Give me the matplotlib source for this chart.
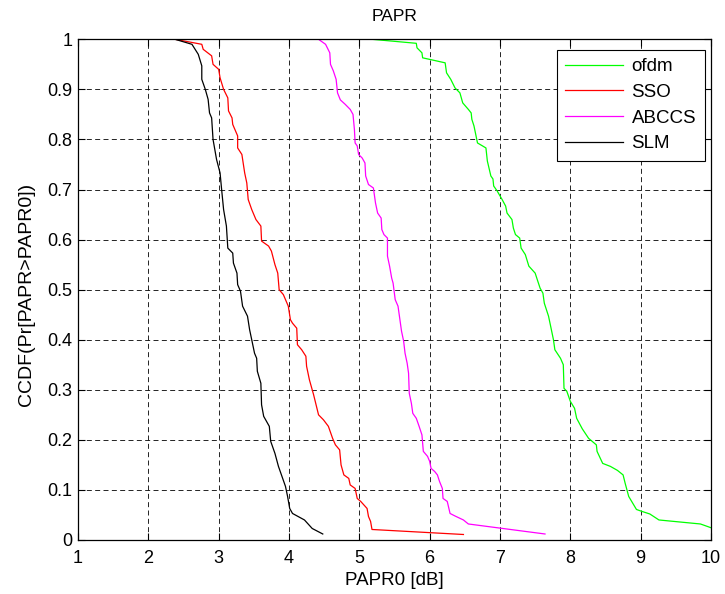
import matplotlib
matplotlib.use("Agg")
import matplotlib.pyplot as plt

# valores (curvas CCDF)
ofdm_x = [5.18, 5.81, 5.82, 5.89, 5.90, 6.22, 6.24, 6.30, 6.36, 6.43, 6.47, 6.55, 6.59, 6.60,
          6.63, 6.68, 6.80, 6.82, 6.87, 6.90, 6.91, 6.96, 7.03, 7.08, 7.10, 7.17, 7.19, 7.22,
          7.28, 7.30, 7.36, 7.41, 7.50, 7.53, 7.57, 7.61, 7.63, 7.69, 7.72, 7.76, 7.78, 7.86,
          7.90, 7.91, 7.95, 8.00, 8.06, 8.09, 8.17, 8.26, 8.37, 8.38, 8.46, 8.57, 8.67, 8.75,
          8.78, 8.83, 8.94, 9.02, 9.13, 9.26, 9.85, 10.05]
ofdm_y = [1.0, 0.992, 0.983, 0.973, 0.963, 0.953, 0.933, 0.92, 0.903, 0.893, 0.873, 0.86, 0.853, 0.84,
          0.827, 0.793, 0.783, 0.757, 0.727, 0.721, 0.707, 0.697, 0.68, 0.667, 0.653, 0.64, 0.623, 0.61,
          0.603, 0.583, 0.57, 0.547, 0.533, 0.52, 0.503, 0.493, 0.473, 0.447, 0.427, 0.40, 0.38, 0.363,
          0.35, 0.303, 0.297, 0.277, 0.263, 0.243, 0.222, 0.203, 0.19, 0.177, 0.153, 0.147, 0.139, 0.13,
          0.113, 0.087, 0.061, 0.057, 0.052, 0.04, 0.032, 0.022]

sso_x = [2.38, 2.76, 2.78, 2.90, 2.92, 3.00, 3.02, 3.07, 3.13, 3.14, 3.19, 3.20, 3.27, 3.27,
         3.33, 3.37, 3.40, 3.42, 3.47, 3.53, 3.60, 3.61, 3.71, 3.75, 3.80, 3.84, 3.86, 3.92,
         3.99, 4.02, 4.05, 4.11, 4.12, 4.18, 4.24, 4.25, 4.29, 4.35, 4.42, 4.49, 4.56, 4.62,
         4.66, 4.72, 4.74, 4.78, 4.85, 4.87, 4.94, 4.97, 5.02, 5.11, 5.13, 5.16, 5.18, 6.48]
sso_y = [1.0, 0.99, 0.98, 0.967, 0.95, 0.94, 0.923, 0.90, 0.883, 0.857, 0.843, 0.83, 0.807, 0.783,
         0.77, 0.733, 0.713, 0.68, 0.66, 0.64, 0.627, 0.597, 0.587, 0.577, 0.55, 0.533, 0.50, 0.49,
         0.467, 0.44, 0.433, 0.423, 0.39, 0.38, 0.367, 0.347, 0.32, 0.29, 0.25, 0.24, 0.227, 0.203,
         0.19, 0.18, 0.15, 0.13, 0.123, 0.11, 0.103, 0.083, 0.077, 0.063, 0.047, 0.037, 0.021, 0.011]

abccs_x = [4.42, 4.52, 4.58, 4.59, 4.63, 4.67, 4.69, 4.73, 4.80, 4.87, 4.91, 4.93, 4.94, 4.97,
           4.99, 5.04, 5.08, 5.09, 5.13, 5.20, 5.23, 5.26, 5.31, 5.32, 5.35, 5.40, 5.40, 5.43,
           5.46, 5.48, 5.51, 5.55, 5.57, 5.60, 5.63, 5.65, 5.68, 5.70, 5.71, 5.74, 5.76, 5.81,
           5.85, 5.89, 5.91, 5.97, 6.00, 6.02, 6.07, 6.11, 6.14, 6.18, 6.19, 6.25, 6.29, 6.36,
           6.48, 6.55, 7.64]
abccs_y = [1.0, 0.99, 0.973, 0.95, 0.937, 0.92, 0.893, 0.879, 0.87, 0.86, 0.85, 0.82, 0.793, 0.787,
           0.77, 0.763, 0.753, 0.727, 0.71, 0.703, 0.673, 0.653, 0.643, 0.62, 0.61, 0.603, 0.567, 0.547,
           0.523, 0.513, 0.48, 0.467, 0.447, 0.417, 0.397, 0.373, 0.353, 0.333, 0.293, 0.273, 0.253, 0.243,
           0.227, 0.21, 0.177, 0.167, 0.157, 0.143, 0.137, 0.13, 0.117, 0.103, 0.083, 0.077, 0.053, 0.048,
           0.04, 0.032, 0.012]

slm_x = [2.38, 2.62, 2.71, 2.76, 2.76, 2.81, 2.85, 2.87, 2.90, 2.92, 2.97, 3.02, 3.04, 3.07, 3.11,
         3.13, 3.20, 3.21, 3.26, 3.27, 3.31, 3.34, 3.41, 3.44, 3.47, 3.51, 3.54, 3.55, 3.60, 3.61,
         3.64, 3.72, 3.74, 3.80, 3.85, 3.90, 3.95, 3.98, 4.01, 4.05, 4.22, 4.33, 4.48]
slm_y = [1.0, 0.99, 0.97, 0.947, 0.92, 0.90, 0.88, 0.853, 0.843, 0.80, 0.76, 0.733, 0.703, 0.66, 0.627,
         0.583, 0.573, 0.553, 0.533, 0.51, 0.497, 0.467, 0.447, 0.42, 0.40, 0.373, 0.363, 0.337, 0.313, 0.27,
         0.247, 0.227, 0.197, 0.173, 0.147, 0.127, 0.107, 0.087, 0.063, 0.053, 0.04, 0.023, 0.012]

x_ticks = [1, 2, 3, 4, 5, 6, 7, 8, 9, 10]
y_ticks = [0, 0.1, 0.2, 0.3, 0.4, 0.5, 0.6, 0.7, 0.8, 0.9, 1]
y_tick_labels = ["0", "0.1", "0.2", "0.3", "0.4", "0.5", "0.6", "0.7", "0.8", "0.9", "1"]

plt.rcParams["font.family"] = ["Liberation Sans", "DejaVu Sans"]

fig = plt.figure(figsize=(7.25, 5.94), dpi=100)
ax = fig.add_axes([78 / 725, 54 / 594, 633 / 725, 500.7 / 594])

ax.plot(ofdm_x, ofdm_y, color="#00ff00", lw=0.9, label="ofdm")
ax.plot(sso_x, sso_y, color="#ff0000", lw=0.9, label="SSO")
ax.plot(abccs_x, abccs_y, color="#ff00ff", lw=0.9, label="ABCCS")
ax.plot(slm_x, slm_y, color="black", lw=0.9, label="SLM")

ax.set_xlim(1, 10)
ax.set_ylim(0, 1)
ax.set_xticks(x_ticks)
ax.set_yticks(y_ticks)
ax.set_yticklabels(y_tick_labels)
ax.tick_params(direction="in", top=True, right=True, length=5, width=0.8, labelsize=13)
ax.tick_params(axis="x", pad=7)
ax.tick_params(axis="y", pad=4)
ax.grid(True, color="black", linestyle=(0, (6, 4)), linewidth=0.6)
for s in ax.spines.values():
    s.set_linewidth(0.9)

ax.set_title("PAPR", fontsize=12.5, pad=13)
ax.set_xlabel("PAPR0 [dB]", fontsize=13.5, labelpad=4)
ax.set_ylabel("CCDF(Pr[PAPR>PAPR0])", fontsize=14, labelpad=9, y=0.49)

leg = ax.legend(loc="upper right", bbox_to_anchor=(0.99, 0.979), borderaxespad=0,
                fancybox=False, framealpha=1, edgecolor="black", fontsize=13.5,
                handlelength=3.1, labelspacing=0.45, borderpad=0.45, handletextpad=0.45)
leg.get_frame().set_linewidth(0.8)

fig.savefig("out.png", dpi=100)
